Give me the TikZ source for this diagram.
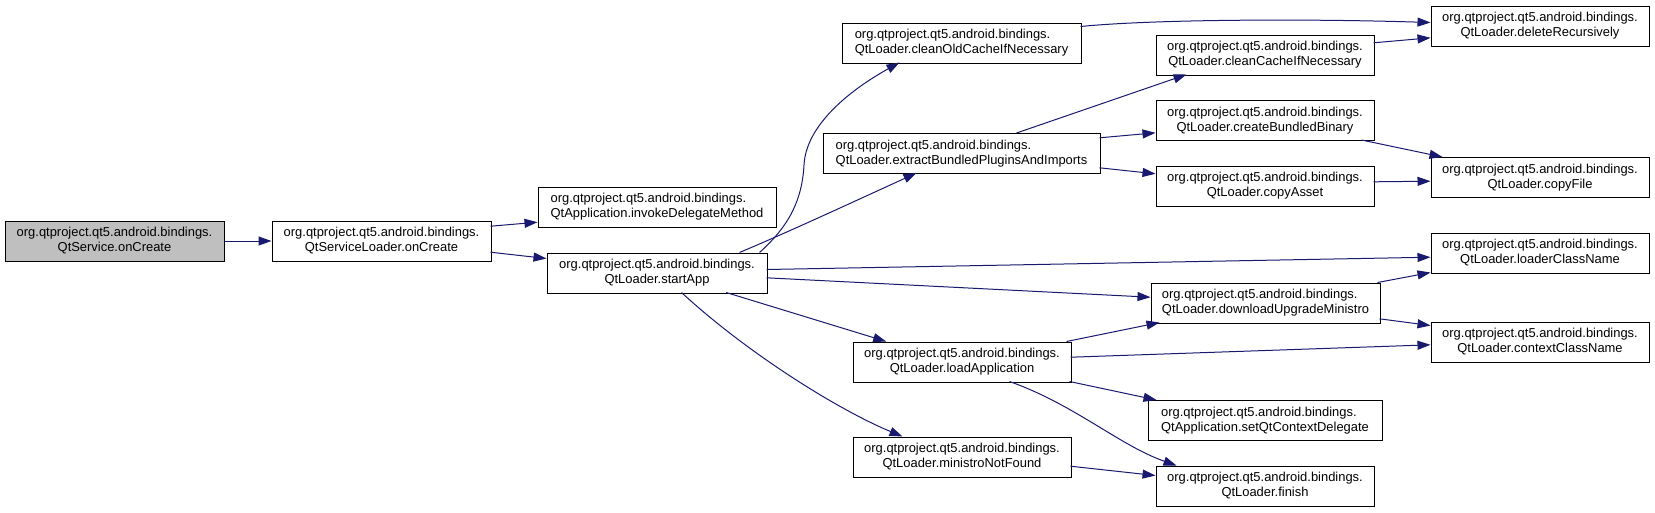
\documentclass[tikz,border=0pt]{standalone}
\usepackage{fontspec}
\setmainfont{Liberation Sans}
\usetikzlibrary{arrows.meta,calc}
\definecolor{edgec}{HTML}{191970}
\definecolor{rootfill}{HTML}{BFBFBF}
\begin{document}
\begin{tikzpicture}[x=0.75pt,y=-0.75pt,
  box/.style={draw=black, line width=0.75pt, fill=white, inner sep=0pt,
    minimum height=30pt, font=\fontsize{9.7pt}{11.25pt}\selectfont, align=center},
  lbox/.style={box, align=left},
  edge/.style={draw=edgec, line width=0.75pt, -{Triangle[length=9.75pt,width=6.75pt]}},
]
\useasboundingbox (0,0) rectangle (1655,512);

% nodes
\node[box, fill=rootfill, minimum width=164.25pt] (svc) at (114.5,241) {org.qtproject.qt5.android.bindings.\\QtService.onCreate};
\node[box, minimum width=164.25pt] (svcl) at (381.5,241) {org.qtproject.qt5.android.bindings.\\QtServiceLoader.onCreate};
\node[lbox, minimum width=178.5pt] (inv) at (657,207) {org.qtproject.qt5.android.bindings.\\QtApplication.invokeDelegateMethod};
\node[box, minimum width=165pt] (start) at (657,273) {org.qtproject.qt5.android.bindings.\\QtLoader.startApp};
\node[lbox, minimum width=179.25pt] (cold) at (961.5,43) {org.qtproject.qt5.android.bindings.\\QtLoader.cleanOldCacheIfNecessary};
\node[lbox, minimum width=207.75pt] (ext) at (961.5,153.5) {org.qtproject.qt5.android.bindings.\\QtLoader.extractBundledPluginsAndImports};
\node[box, minimum width=163.5pt] (load) at (962,362) {org.qtproject.qt5.android.bindings.\\QtLoader.loadApplication};
\node[box, minimum width=163.5pt] (mnf) at (962,457) {org.qtproject.qt5.android.bindings.\\QtLoader.ministroNotFound};
\node[box, minimum width=163.5pt] (del) at (1540,26) {org.qtproject.qt5.android.bindings.\\QtLoader.deleteRecursively};
\node[box, minimum width=163.5pt] (ccache) at (1265,55) {org.qtproject.qt5.android.bindings.\\QtLoader.cleanCacheIfNecessary};
\node[box, minimum width=163.5pt] (cbb) at (1265,120.5) {org.qtproject.qt5.android.bindings.\\QtLoader.createBundledBinary};
\node[box, minimum width=163.5pt] (ca) at (1265,186) {org.qtproject.qt5.android.bindings.\\QtLoader.copyAsset};
\node[box, minimum width=163.5pt] (cf) at (1540,177.5) {org.qtproject.qt5.android.bindings.\\QtLoader.copyFile};
\node[box, minimum width=163.5pt] (lcn) at (1540,253) {org.qtproject.qt5.android.bindings.\\QtLoader.loaderClassName};
\node[lbox, minimum width=171.75pt] (dum) at (1265.5,303) {org.qtproject.qt5.android.bindings.\\QtLoader.downloadUpgradeMinistro};
\node[box, minimum width=163.5pt] (ccn) at (1540,342) {org.qtproject.qt5.android.bindings.\\QtLoader.contextClassName};
\node[lbox, minimum width=175.5pt] (setq) at (1265,420.5) {org.qtproject.qt5.android.bindings.\\QtApplication.setQtContextDelegate};
\node[box, minimum width=163.5pt] (fin) at (1265,486) {org.qtproject.qt5.android.bindings.\\QtLoader.finish};

% edges
\draw[edge] (svc.east) -- (svcl.west);
\draw[edge] ($(svcl.north west)+(219,5.7)$) -- ($(inv.north west)+(0,35.7)$);
\draw[edge] ($(svcl.north west)+(219,31.7)$) -- ($(start.north west)+(0,6)$);
\coordinate (mid4) at (804,165);
\draw[edge] ($(start.north west)+(213,0)$) .. controls +(30,-27) and (802,200) .. (mid4)
  .. controls (806,125) and (850,90) .. ($(cold.north west)+(58,40)$);
\draw[edge] ($(start.north west)+(193,0)$) .. controls +(50,-21) and +(-57,26) .. ($(ext.north west)+(94,40)$);
\draw[edge] ($(start.north west)+(220,17)$) -- ($(lcn.north west)+(0,24.7)$);
\draw[edge] ($(start.north west)+(220,25.3)$) -- ($(dum.north west)+(0,14.7)$);
\draw[edge] ($(start.north west)+(179.7,40)$) -- ($(load.north west)+(33.7,0)$);
\draw[edge] ($(start.north west)+(135,40)$) .. controls +(65,60) and +(-65,-27) .. ($(mnf.north west)+(50,0)$);
\draw[edge] ($(cold.north west)+(239,4)$) .. controls +(70,-7) and +(-130,-4) .. ($(del.north west)+(0,17)$);
\draw[edge] ($(ext.north west)+(194,0)$) -- ($(ccache.north west)+(31,40)$);
\draw[edge] ($(ext.north west)+(277,4.8)$) -- ($(cbb.north west)+(0,32.8)$);
\draw[edge] ($(ext.north west)+(277,34.8)$) -- ($(ca.north west)+(0,8.3)$);
\draw[edge] ($(ccache.north west)+(218,8.3)$) -- ($(del.north west)+(0,32.3)$);
\draw[edge] ($(cbb.north west)+(206,40)$) -- ($(cf.north west)+(12,0)$);
\draw[edge] ($(ca.north west)+(218,16.3)$) -- ($(cf.north west)+(0,24.2)$);
\draw[edge] ($(load.north west)+(214,0)$) -- ($(dum.north west)+(9,40)$);
\draw[edge] ($(load.north west)+(218,15.7)$) -- ($(ccn.north west)+(0,23.3)$);
\draw[edge] ($(load.north west)+(217,40)$) -- ($(setq.north west)+(9,0)$);
\draw[edge] ($(load.north west)+(157,40)$) .. controls +(65,23) and +(-57,-20) .. ($(fin.north west)+(21,0)$);
\draw[edge] ($(mnf.north west)+(218,29.7)$) -- ($(fin.north west)+(0,10)$);
\draw[edge] ($(dum.north west)+(227,0)$) -- ($(lcn.north west)+(0,40)$);
\draw[edge] ($(dum.north west)+(229,36.3)$) -- ($(ccn.north west)+(0,4)$);
\end{tikzpicture}
\end{document}
